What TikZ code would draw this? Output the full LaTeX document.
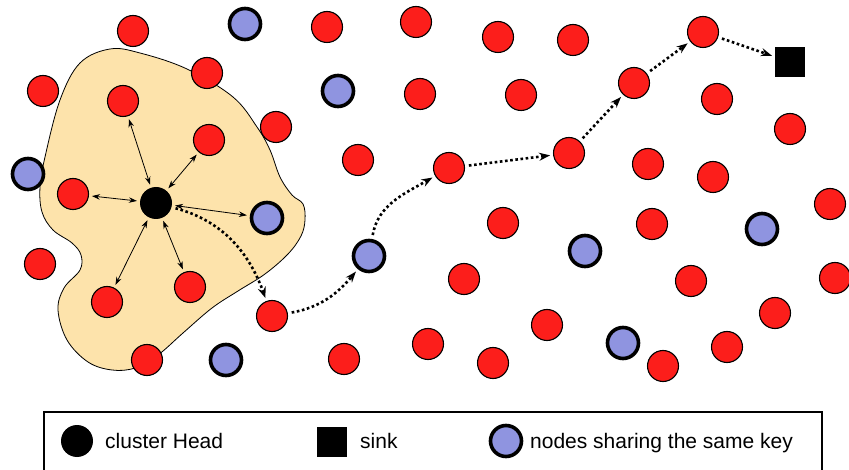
\documentclass[tikz,border=0pt]{standalone}
\usepackage{fontspec}
\setmainfont{Liberation Sans}
\usetikzlibrary{arrows.meta}
\definecolor{sensorred}{RGB}{252,30,27}
\definecolor{keyblue}{RGB}{143,148,224}
\definecolor{clusterfill}{RGB}{253,227,171}

\begin{document}
\begin{tikzpicture}[x=1pt, y=1pt,
    sensor/.style={circle, draw, line width=1.1pt, fill=sensorred, minimum size=31pt, inner sep=0pt},
    keynode/.style={circle, draw, line width=3.6pt, fill=keyblue, minimum size=31pt, inner sep=0pt},
    head/.style={circle, fill=black, minimum size=32pt, inner sep=0pt},
    sinknode/.style={fill=black, minimum size=30pt, inner sep=0pt},
    link/.style={{Stealth[length=8pt,width=5.5pt]}-{Stealth[length=8pt,width=5.5pt]}, line width=0.8pt, shorten <=3pt, shorten >=3pt},
    route/.style={-{Stealth[length=11pt,width=8pt]}, line width=2.6pt, dash pattern=on 2.6pt off 2.6pt, shorten <=4pt, shorten >=3pt},
    legendtext/.style={anchor=base west, inner sep=0pt, font=\fontsize{21}{25}\selectfont}]
    \useasboundingbox (0,0) rectangle (849,-470);

    \draw[fill=clusterfill, line width=0.8pt] plot[smooth cycle, tension=0.6] coordinates {
        (110,-49) (140,-53) (187,-69) (233,-97) (257,-127) (270,-150) (280,-177)
        (292,-195) (303,-204) (305,-220) (301,-236) (288,-254) (265,-274)
        (238,-291) (212,-308) (183,-333) (158,-355) (135,-368) (112,-370)
        (88,-362) (67,-340) (58,-310) (64,-288) (80,-270) (81,-255) (72,-243)
        (53,-230) (42,-212) (40,-187) (45,-157) (60,-100) (80,-63)};

    \node[sensor] (r1) at (133,-31) {};
    \node[sensor] (r2) at (207,-73) {};
    \node[sensor] (r3) at (43,-91) {};
    \node[sensor] (r4) at (276,-127) {};
    \node[sensor] (r5) at (40,-264) {};
    \node[sensor] (r6) at (147,-360) {};
    \node[sensor] (r7) at (327,-27) {};
    \node[sensor] (r8) at (416,-22) {};
    \node[sensor] (r9) at (498,-37) {};
    \node[sensor] (r10) at (573,-40) {};
    \node[sensor] (r11) at (420,-94) {};
    \node[sensor] (r12) at (521,-95) {};
    \node[sensor] (r13) at (717,-99) {};
    \node[sensor] (r14) at (790,-129) {};
    \node[sensor] (r15) at (358,-160) {};
    \node[sensor] (r16) at (648,-164) {};
    \node[sensor] (r17) at (713,-177) {};
    \node[sensor] (r18) at (830,-204) {};
    \node[sensor] (r19) at (503,-223) {};
    \node[sensor] (r20) at (652,-224) {};
    \node[sensor] (r21) at (464,-279) {};
    \node[sensor] (r22) at (691,-281) {};
    \node[sensor] (r23) at (835,-278) {};
    \node[sensor] (r24) at (547,-325) {};
    \node[sensor] (r25) at (775,-313) {};
    \node[sensor] (r26) at (344,-359) {};
    \node[sensor] (r27) at (428,-344) {};
    \node[sensor] (r28) at (493,-363) {};
    \node[sensor] (r29) at (663,-366) {};
    \node[sensor] (r30) at (727,-347) {};

    \node[keynode] (k1) at (245,-24) {};
    \node[keynode] (k2) at (338,-91) {};
    \node[keynode] (k3) at (28,-174) {};
    \node[keynode] (k4) at (585,-251) {};
    \node[keynode] (k5) at (762,-229) {};
    \node[keynode] (k6) at (623,-343) {};
    \node[keynode] (k7) at (226,-360) {};

    \node[head] (ch) at (156,-203) {};
    \node[sensor] (c1) at (123,-101) {};
    \node[sensor] (c2) at (209,-140) {};
    \node[sensor] (c3) at (73,-194) {};
    \node[keynode] (c4) at (267,-218) {};
    \node[sensor] (c5) at (107,-302) {};
    \node[sensor] (c6) at (190,-287) {};

    \draw[link] (ch) -- (c1);
    \draw[link] (ch) -- (c2);
    \draw[link] (ch) -- (c3);
    \draw[link] (ch) -- (c4);
    \draw[link] (ch) -- (c5);
    \draw[link] (ch) -- (c6);

    \node[sensor] (p1) at (272,-316) {};
    \node[keynode] (p2) at (369,-256) {};
    \node[sensor] (p3) at (449,-168) {};
    \node[sensor] (p4) at (569,-153) {};
    \node[sensor] (p5) at (634,-83) {};
    \node[sensor] (p6) at (703,-32) {};
    \node[sinknode] (sink) at (790,-62) {};

    \draw[route] (ch) to[out=-15, in=110] (p1);
    \draw[route] (p1) to[out=10, in=-130] (p2);
    \draw[route] (p2) to[out=80, in=-150] (p3);
    \draw[route] (p3) -- (p4);
    \draw[route] (p4) -- (p5);
    \draw[route] (p5) -- (p6);
    \draw[route] (p6) -- (sink);

    \draw[line width=1.2pt] (44,-472) -- (44,-412) -- (822,-412) -- (822,-472);
    \node[head] (lhead) at (77,-441) {};
    \node[legendtext] (lheadtext) at (105,-448) {cluster Head};
    \node[sinknode] (lsink) at (332,-442) {};
    \node[legendtext] (lsinktext) at (360,-448) {sink};
    \node[keynode] (lkey) at (506,-441) {};
    \node[legendtext] (lkeytext) at (530,-448) {nodes sharing the same key};
\end{tikzpicture}
\end{document}
